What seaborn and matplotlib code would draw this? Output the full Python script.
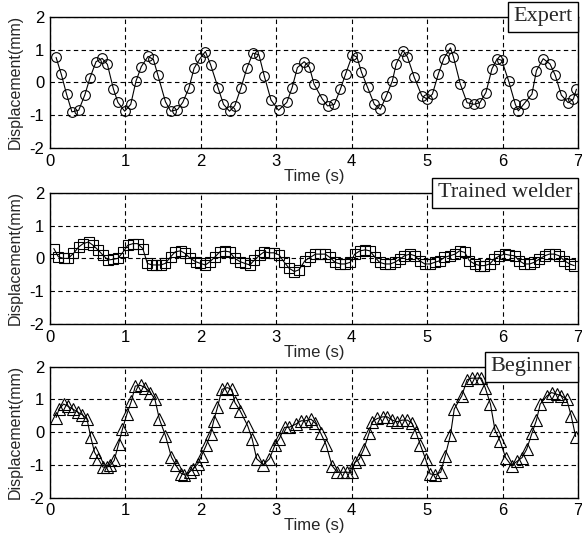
import matplotlib
matplotlib.use("Agg")
import matplotlib.pyplot as plt
import seaborn as sns

# Values (time in s, displacement in mm)
expert_time = [0.08, 0.15, 0.22, 0.29, 0.38, 0.46, 0.53, 0.61, 0.69, 0.76,
               0.84, 0.90, 0.99, 1.07, 1.14, 1.21, 1.30, 1.37, 1.43, 1.53,
               1.60, 1.69, 1.76, 1.84, 1.91, 1.99, 2.06, 2.13, 2.23, 2.30,
               2.38, 2.45, 2.53, 2.61, 2.69, 2.77, 2.84, 2.93, 3.03, 3.14,
               3.21, 3.28, 3.37, 3.44, 3.50, 3.61, 3.68, 3.77, 3.85, 3.92,
               4.01, 4.07, 4.13, 4.21, 4.30, 4.38, 4.46, 4.54, 4.59, 4.68,
               4.74, 4.83, 4.93, 5.00, 5.07, 5.15, 5.22, 5.31, 5.35, 5.44,
               5.53, 5.62, 5.70, 5.78, 5.86, 5.93, 5.99, 6.08, 6.17, 6.21,
               6.28, 6.39, 6.45, 6.54, 6.63, 6.70, 6.78, 6.87, 6.94, 6.98]
expert_disp = [0.76, 0.24, -0.37, -0.90, -0.85, -0.39, 0.14, 0.63, 0.73, 0.55,
               -0.20, -0.61, -0.88, -0.67, 0.04, 0.48, 0.79, 0.70, 0.22, -0.59,
               -0.88, -0.83, -0.61, -0.18, 0.43, 0.73, 0.94, 0.53, -0.18, -0.67,
               -0.88, -0.71, -0.18, 0.43, 0.89, 0.84, 0.20, -0.54, -0.85, -0.61,
               -0.16, 0.45, 0.63, 0.46, -0.05, -0.51, -0.72, -0.67, -0.21, 0.26,
               0.84, 0.77, 0.31, -0.15, -0.67, -0.82, -0.41, 0.05, 0.56, 0.97,
               0.77, 0.15, -0.41, -0.51, -0.36, 0.26, 0.72, 1.05, 0.77, -0.05,
               -0.62, -0.67, -0.62, -0.31, 0.41, 0.72, 0.67, 0.05, -0.67, -0.87,
               -0.67, -0.36, 0.36, 0.72, 0.56, 0.21, -0.39, -0.62, -0.51, -0.21]

welder_time = [0.05, 0.11, 0.18, 0.24, 0.31, 0.38, 0.44, 0.51, 0.57, 0.64,
               0.70, 0.77, 0.83, 0.90, 0.97, 1.03, 1.10, 1.16, 1.23, 1.29,
               1.35, 1.41, 1.47, 1.53, 1.60, 1.66, 1.73, 1.79, 1.86, 1.93,
               1.99, 2.06, 2.12, 2.19, 2.25, 2.32, 2.38, 2.45, 2.52, 2.58,
               2.65, 2.71, 2.78, 2.84, 2.91, 2.97, 3.04, 3.10, 3.17, 3.24,
               3.30, 3.38, 3.45, 3.52, 3.58, 3.65, 3.71, 3.78, 3.85, 3.91,
               3.98, 4.04, 4.11, 4.18, 4.24, 4.31, 4.37, 4.44, 4.51, 4.57,
               4.64, 4.70, 4.77, 4.84, 4.90, 4.97, 5.04, 5.10, 5.17, 5.23,
               5.30, 5.37, 5.43, 5.50, 5.56, 5.63, 5.70, 5.76, 5.83, 5.89,
               5.96, 6.03, 6.09, 6.16, 6.22, 6.29, 6.36, 6.42, 6.49, 6.56,
               6.62, 6.69, 6.75, 6.82, 6.89, 6.95]
welder_disp = [0.30, 0.05, 0.00, 0.00, 0.15, 0.35, 0.45, 0.50, 0.40, 0.25,
               0.10, -0.05, -0.03, 0.00, 0.20, 0.40, 0.45, 0.45, 0.30, -0.15,
               -0.20, -0.20, -0.20, -0.15, 0.05, 0.20, 0.23, 0.15, 0.00, -0.10,
               -0.15, -0.20, -0.10, 0.05, 0.20, 0.22, 0.20, 0.00, -0.10, -0.15,
               -0.20, -0.05, 0.10, 0.20, 0.17, 0.17, 0.10, -0.10, -0.30, -0.40,
               -0.35, -0.07, 0.03, 0.13, 0.13, 0.13, 0.03, -0.12, -0.17, -0.17,
               -0.12, 0.13, 0.23, 0.26, 0.23, 0.03, -0.12, -0.17, -0.17, -0.12,
               -0.02, 0.08, 0.13, 0.08, -0.07, -0.17, -0.17, -0.12, -0.07, 0.03,
               0.08, 0.13, 0.23, 0.18, -0.07, -0.17, -0.22, -0.22, -0.17, -0.02,
               0.08, 0.13, 0.10, 0.08, -0.07, -0.17, -0.17, -0.12, -0.02, 0.08,
               0.13, 0.13, 0.08, -0.07, -0.17, -0.22]

beginner_time = [0.08, 0.12, 0.18, 0.24, 0.30, 0.37, 0.43, 0.49, 0.54, 0.59,
                 0.64, 0.70, 0.76, 0.80, 0.85, 0.91, 0.96, 1.02, 1.08, 1.13,
                 1.20, 1.26, 1.33, 1.39, 1.45, 1.53, 1.61, 1.67, 1.74, 1.78,
                 1.85, 1.90, 1.96, 2.01, 2.07, 2.13, 2.17, 2.22, 2.28, 2.35,
                 2.41, 2.45, 2.52, 2.62, 2.68, 2.74, 2.83, 2.91, 2.98, 3.04,
                 3.11, 3.17, 3.26, 3.33, 3.39, 3.46, 3.52, 3.59, 3.66, 3.74,
                 3.81, 3.88, 3.94, 4.00, 4.04, 4.10, 4.16, 4.23, 4.27, 4.34,
                 4.41, 4.47, 4.54, 4.60, 4.67, 4.74, 4.80, 4.85, 4.91, 4.98,
                 5.04, 5.11, 5.18, 5.24, 5.31, 5.36, 5.46, 5.53, 5.59, 5.66,
                 5.72, 5.77, 5.84, 5.90, 5.97, 6.04, 6.12, 6.19, 6.26, 6.32,
                 6.39, 6.45, 6.50, 6.59, 6.65, 6.72, 6.78, 6.85, 6.91, 6.97]
beginner_disp = [0.45, 0.71, 0.86, 0.79, 0.71, 0.61, 0.53, 0.40, -0.15, -0.61,
                 -0.81, -1.06, -1.06, -1.01, -0.86, -0.35, 0.10, 0.56, 0.96, 1.41,
                 1.43, 1.36, 1.21, 1.01, 0.40, -0.10, -0.76, -1.01, -1.26, -1.29,
                 -1.21, -1.11, -0.96, -0.71, -0.40, -0.05, 0.35, 0.76, 1.31, 1.36,
                 1.31, 0.91, 0.66, 0.20, -0.20, -0.81, -0.99, -0.81, -0.40, -0.20,
                 0.15, 0.15, 0.25, 0.35, 0.35, 0.40, 0.27, -0.03, -0.38, -1.02,
                 -1.22, -1.22, -1.22, -1.22, -0.92, -0.82, -0.52, -0.03, 0.32, 0.42,
                 0.47, 0.47, 0.37, 0.32, 0.37, 0.37, 0.27, 0.02, -0.38, -0.82,
                 -1.27, -1.29, -1.22, -0.72, -0.08, 0.71, 1.11, 1.60, 1.65, 1.65,
                 1.65, 1.36, 0.86, 0.07, -0.28, -0.77, -1.02, -0.89, -0.77, -0.52,
                 -0.03, 0.37, 0.86, 1.11, 1.21, 1.16, 1.11, 1.01, 0.51, -0.13]

group_names = ["Expert", "Trained welder", "Beginner"]
x_ticks = [0, 1, 2, 3, 4, 5, 6, 7]
y_ticks = [-2, -1, 0, 1, 2]

sns.set_style("white")
plt.rcParams['font.family'] = ['Liberation Sans', 'DejaVu Sans']
plt.rcParams['axes.unicode_minus'] = False

fig = plt.figure(figsize=(5.82, 5.40), dpi=100)

# panel boxes in figure fractions (left, bottom, width, height)
panels = [
    (0.086, 0.726, 0.907, 0.243),
    (0.086, 0.400, 0.907, 0.243),
    (0.086, 0.078, 0.907, 0.243),
]
series = [(expert_time, expert_disp, 'o', 7),
          (welder_time, welder_disp, 's', 7.5),
          (beginner_time, beginner_disp, '^', 8)]

for pos, (t, d, mk, ms), name in zip(panels, series, group_names):
    ax = fig.add_axes(pos)
    sns.lineplot(x=t, y=d, ax=ax, color='black', linewidth=0.8,
                 marker=mk, markersize=ms, markerfacecolor='none',
                 markeredgecolor='black', markeredgewidth=0.8,
                 estimator=None, sort=False)
    ax.set_xlim(0, 7)
    ax.set_ylim(-2, 2)
    ax.set_xticks(x_ticks)
    ax.set_yticks(y_ticks)
    ax.grid(True, color='black', linestyle=(0, (4, 3)), linewidth=0.8)
    for s in ax.spines.values():
        s.set_color('black')
        s.set_linewidth(1.0)
    ax.tick_params(axis='both', labelsize=12, length=0, pad=4, colors='black')
    ax.set_xlabel('Time (s)', fontsize=12, labelpad=0)
    ax.set_ylabel('Displacement(mm)', fontsize=11.5, labelpad=5)
    ax.annotate(name, xy=(1, 1), xycoords='axes fraction',
                xytext=(-4, 0), textcoords='offset points',
                ha='right', va='center', fontsize=16,
                family=['Liberation Serif', 'DejaVu Serif'],
                bbox=dict(boxstyle='square,pad=0.25', fc='white', ec='black', lw=1.0),
                annotation_clip=False, zorder=10)

fig.savefig('out.png', dpi=100)
